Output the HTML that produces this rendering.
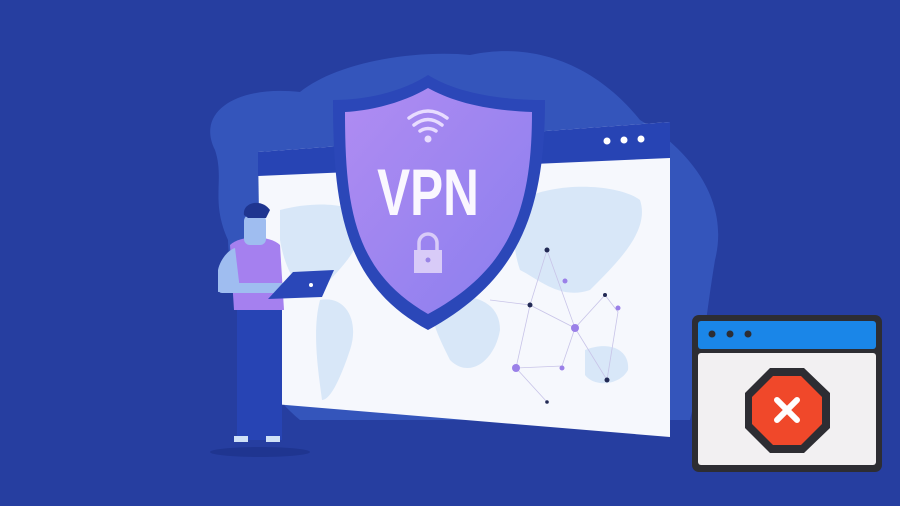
<!DOCTYPE html>
<html><head><meta charset="utf-8"><style>
html,body{margin:0;padding:0;background:#263ea0;}
svg{display:block}
</style></head><body>
<svg width="900" height="506" viewBox="0 0 900 506" xmlns="http://www.w3.org/2000/svg">
<defs>
<linearGradient id="sh" x1="0" y1="0" x2="1" y2="1">
<stop offset="0" stop-color="#b08cf2"/><stop offset="1" stop-color="#8a7eee"/>
</linearGradient>
</defs>
<rect width="900" height="506" fill="#263ea0"/>
<!-- blob -->
<path d="M215 150 C195 110 240 85 300 92 C340 60 420 50 470 55 C540 40 600 70 640 120 C690 150 730 200 715 260 C705 320 700 380 690 420 L300 420 C250 380 230 300 228 240 C210 200 225 180 215 150 Z" fill="#3a5dc4" opacity="0.75"/>
<!-- browser window -->
<polygon points="258,152 670,122 670,437 262,403" fill="#f6f8fd"/>
<polygon points="258,152 670,122 670,158 258,176" fill="#2744b4"/>
<circle cx="607" cy="141" r="3.5" fill="#fff"/><circle cx="624" cy="140" r="3.5" fill="#fff"/><circle cx="641" cy="139" r="3.5" fill="#fff"/>
<!-- map blobs -->
<g fill="#d8e7f8">
<path d="M280 210 C320 200 350 205 360 215 C370 240 340 270 320 290 C300 300 285 270 280 240 Z"/>
<path d="M320 300 C345 295 360 320 350 350 C340 380 330 400 322 400 C318 370 312 330 320 300 Z"/>
<path d="M430 300 C470 290 500 300 500 330 C495 360 470 380 450 360 C440 340 430 320 430 300 Z"/>
<path d="M520 200 C560 180 620 185 640 200 C650 230 620 260 590 290 C560 300 540 280 520 270 C510 240 515 220 520 200 Z"/>
<path d="M585 350 C610 340 630 350 628 370 C620 385 595 388 585 375 Z"/>
</g>
<g stroke="#c8c4e8" stroke-width="0.8" fill="none">
<path d="M547 250 L530 305 L575 328 L547 250 M530 305 L516 368 L562 366 L575 328 L605 295 L618 312 L607 380 L575 328 M516 368 L547 402 M490 300 L530 305"/>
</g>
<g fill="#222a55"><circle cx="547" cy="250" r="2.5"/><circle cx="530" cy="305" r="2.5"/><circle cx="605" cy="295" r="2"/><circle cx="607" cy="380" r="2.5"/><circle cx="547" cy="402" r="1.8"/></g>
<g fill="#9a80e8"><circle cx="575" cy="328" r="4"/><circle cx="516" cy="368" r="4"/><circle cx="562" cy="368" r="2.5"/><circle cx="618" cy="308" r="2.5"/><circle cx="565" cy="281" r="2.5"/></g>
<!-- shield -->
<path d="M333 100 C370 100 405 90 428 75 C452 90 490 100 545 100 C545 210 520 280 428 330 C345 285 333 210 333 100 Z" fill="#2b47b8"/>
<path d="M345 112 C378 110 408 100 428 88 C450 100 480 110 532 112 C532 210 510 270 428 314 C355 272 345 210 345 112 Z" fill="url(#sh)"/>
<g fill="none" stroke="#e8dcff" stroke-width="3.5" stroke-linecap="round">
<path d="M409 118 Q428 104 447 118"/><path d="M414 125 Q428 114 442 125"/><path d="M420 131 Q428 126 436 131"/>
</g>
<circle cx="428" cy="139" r="3.5" fill="#e8dcff"/>
<text x="428" y="215" text-anchor="middle" font-family="Liberation Sans, sans-serif" font-weight="bold" font-size="66" fill="#faf7ff" transform="translate(428 0) scale(0.75 1) translate(-428 0)">VPN</text>
<path d="M419 250 V243 A9 9 0 0 1 437 243 V250" fill="none" stroke="#d8cbf8" stroke-width="3.5"/>
<rect x="414" y="250" width="28" height="23" fill="#d8cbf8"/>
<circle cx="428" cy="260" r="2.5" fill="#9a85e6"/>
<!-- person -->
<ellipse cx="260" cy="452" rx="50" ry="5" fill="#1f3590"/>
<rect x="237" y="300" width="45" height="140" fill="#2744b4"/>
<rect x="234" y="436" width="14" height="6" fill="#cfe1f7"/><rect x="266" y="436" width="14" height="6" fill="#cfe1f7"/>
<path d="M230 245 C240 235 270 235 280 245 L284 310 L234 310 Z" fill="#a580ef"/>
<path d="M218 270 C220 260 228 250 235 248 L240 290 L218 292 Z" fill="#9fbdf0"/>
<rect x="218" y="283" width="70" height="10" rx="4" fill="#9fbdf0"/>
<rect x="244" y="215" width="22" height="30" rx="6" fill="#9fbdf0"/>
<path d="M244 215 C242 202 262 198 270 210 L266 218 L248 218 Z" fill="#1f3590"/>
<polygon points="293,272 334,270 322,297 268,299" fill="#2a47b8"/>
<circle cx="311" cy="285" r="2" fill="#fff"/>
<!-- error window -->
<rect x="692" y="315" width="190" height="157" rx="7" fill="#2d2d33"/>
<rect x="698" y="321" width="178" height="28" rx="3" fill="#1a86e8"/>
<rect x="698" y="353" width="178" height="112" rx="3" fill="#f2f0f2"/>
<circle cx="712" cy="334" r="3.5" fill="#2d2d33"/><circle cx="730" cy="334" r="3.5" fill="#2d2d33"/><circle cx="748" cy="334" r="3.5" fill="#2d2d33"/>
<polygon points="770,368 804,368 830,393 830,428 804,453 770,453 745,428 745,393" fill="#2d2d33"/>
<polygon points="773,376 801,376 822,397 822,424 801,445 773,445 752,424 752,397" fill="#f0482a"/>
<path d="M777 400 L797 420 M797 400 L777 420" stroke="#fff" stroke-width="6" stroke-linecap="round"/>
</svg>
</body></html>
